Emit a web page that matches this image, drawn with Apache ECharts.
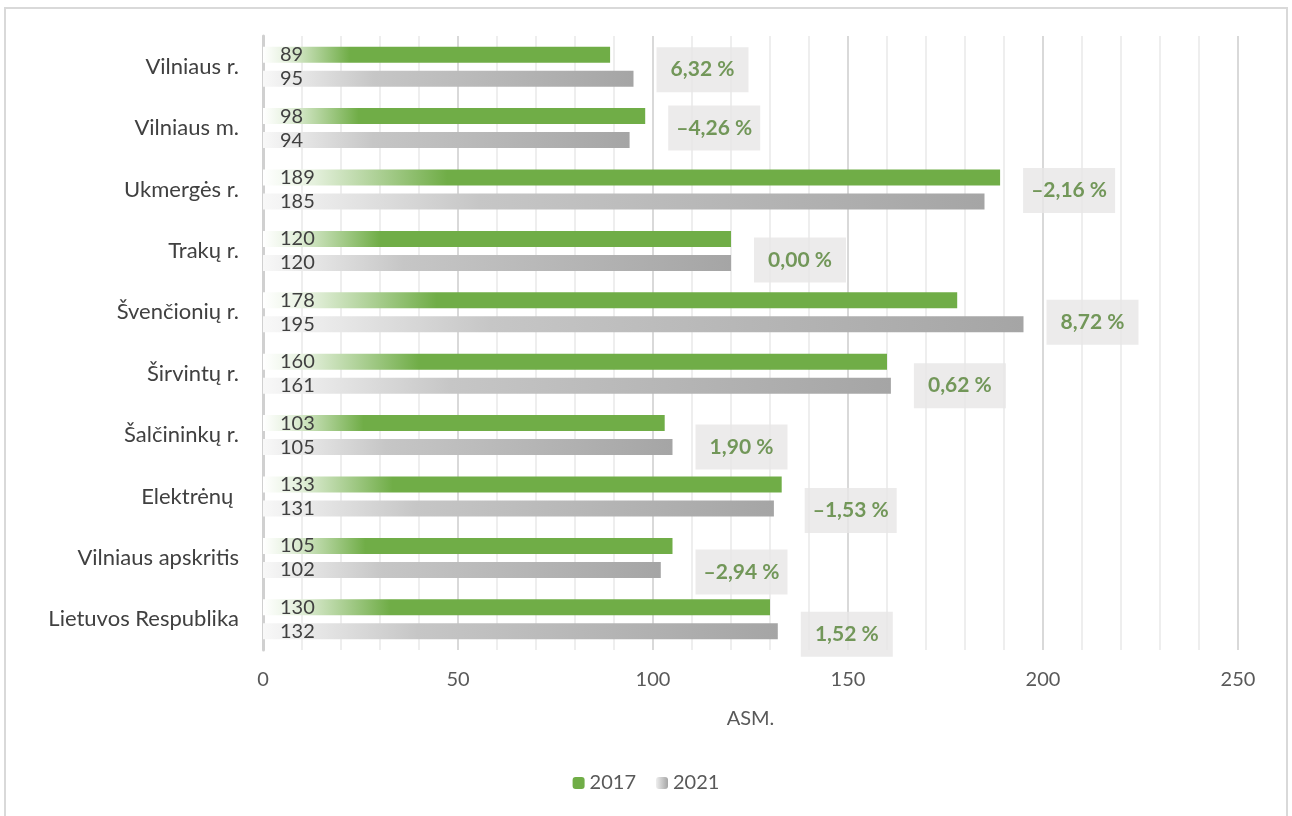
<!DOCTYPE html>
<html>
<head>
<meta charset="utf-8">
<script src="https://cdn.jsdelivr.net/npm/echarts@6/dist/echarts.min.js"></script>
<style>
html,body{margin:0;padding:0;background:#fff;}
#c{width:1292px;height:816px;}
</style>
</head>
<body>
<div id="c"></div>
<script>
const categories = ['Vilniaus r.', 'Vilniaus m.', 'Ukmergės r.', 'Trakų r.', 'Švenčionių r.', 'Širvintų r.', 'Šalčininkų r.', 'Elektrėnų ', 'Vilniaus apskritis', 'Lietuvos Respublika'];
const values2017 = [89, 98, 189, 120, 178, 160, 103, 133, 105, 130];
const values2021 = [95, 94, 185, 120, 195, 161, 105, 131, 102, 132];
const changeLabels = ['6,32 %', '–4,26 %', '–2,16 %', '0,00 %', '8,72 %', '0,62 %', '1,90 %', '–1,53 %', '–2,94 %', '1,52 %'];
const xTicks = [0, 50, 100, 150, 200, 250];

// style: vertical shift of each change box (px)
const boxShift = [3, 0, 1, 9, 10, 12, 12, 14, 14, 15];

const FONT = 'Lato';
const chart = echarts.init(document.getElementById('c'));

const green = new echarts.graphic.LinearGradient(0, 0, 1, 0, [
  {offset: 0, color: '#ffffff'},
  {offset: 0.07, color: '#e4f0dc'},
  {offset: 0.25, color: '#70AD47'},
  {offset: 1, color: '#70AD47'}
]);
const gray = new echarts.graphic.LinearGradient(0, 0, 1, 0, [
  {offset: 0, color: '#f8f8f8'},
  {offset: 0.3, color: '#c6c6c6'},
  {offset: 1, color: '#a5a5a5'}
]);
const grayIcon = new echarts.graphic.LinearGradient(0, 0, 1, 0, [
  {offset: 0, color: '#eeeeee'},
  {offset: 1, color: '#a5a5a5'}
]);

const barLabel = {
  show: true, position: 'insideLeft', distance: 17,
  color: '#404040', fontSize: 20, fontFamily: FONT
};

const changeData = categories.map((c, i) => ({
  value: [Math.max(values2017[i], values2021[i]), c],
  label: {offset: [0, boxShift[i]]}
}));

chart.setOption({
  animation: false,
  textStyle: {fontFamily: FONT},
  graphic: [{
    type: 'rect', shape: {x: 5, y: 8, width: 1282, height: 820},
    style: {fill: 'none', stroke: '#d9d9d9', lineWidth: 2}, silent: true, z: -1
  }],
  grid: {left: 263, right: 54, top: 36, bottom: 166},
  legend: {
    bottom: 18, left: 'center', itemWidth: 12, itemHeight: 12, itemGap: 20,
    textStyle: {fontSize: 20, color: '#595959', fontFamily: FONT},
    data: [
      {name: '2017', itemStyle: {color: '#70AD47'}},
      {name: '2021', itemStyle: {color: grayIcon}}
    ]
  },
  xAxis: {
    type: 'value', min: xTicks[0], max: xTicks[xTicks.length - 1], interval: xTicks[1] - xTicks[0],
    name: 'ASM.', nameLocation: 'middle', nameGap: 59,
    nameTextStyle: {fontSize: 20, color: '#595959', fontFamily: FONT},
    axisLine: {show: false}, axisTick: {show: false},
    axisLabel: {fontSize: 20, color: '#595959', margin: 20, fontFamily: FONT},
    splitLine: {show: true, lineStyle: {color: '#d9d9d9', width: 2}},
    minorTick: {show: false, splitNumber: 5},
    minorSplitLine: {show: true, lineStyle: {color: '#eeeeee', width: 2}}
  },
  yAxis: {
    type: 'category', data: categories, inverse: true,
    axisLine: {show: true, lineStyle: {color: '#d0d0d0', width: 3}},
    axisTick: {show: false},
    axisLabel: {fontSize: 22, color: '#404040', margin: 24, fontFamily: FONT}
  },
  series: [
    {
      name: '2017', type: 'bar', data: values2017, barWidth: 16, barGap: '50%',
      itemStyle: {color: green}, label: barLabel
    },
    {
      name: '2021', type: 'bar', data: values2021, barWidth: 16,
      itemStyle: {color: gray}, label: barLabel
    },
    {
      name: 'change', type: 'scatter', data: changeData, symbolSize: 0, silent: true,
      label: {
        show: true, position: 'right', distance: 23,
        formatter: p => '{b|' + changeLabels[p.dataIndex] + '}',
        rich: {
          b: {
            width: 92, height: 45, lineHeight: 45, align: 'center',
            backgroundColor: '#E7E6E6', color: '#548235',
            fontWeight: 'bold', fontSize: 21, fontFamily: FONT
          }
        }
      }
    }
  ]
});
</script>
</body>
</html>
